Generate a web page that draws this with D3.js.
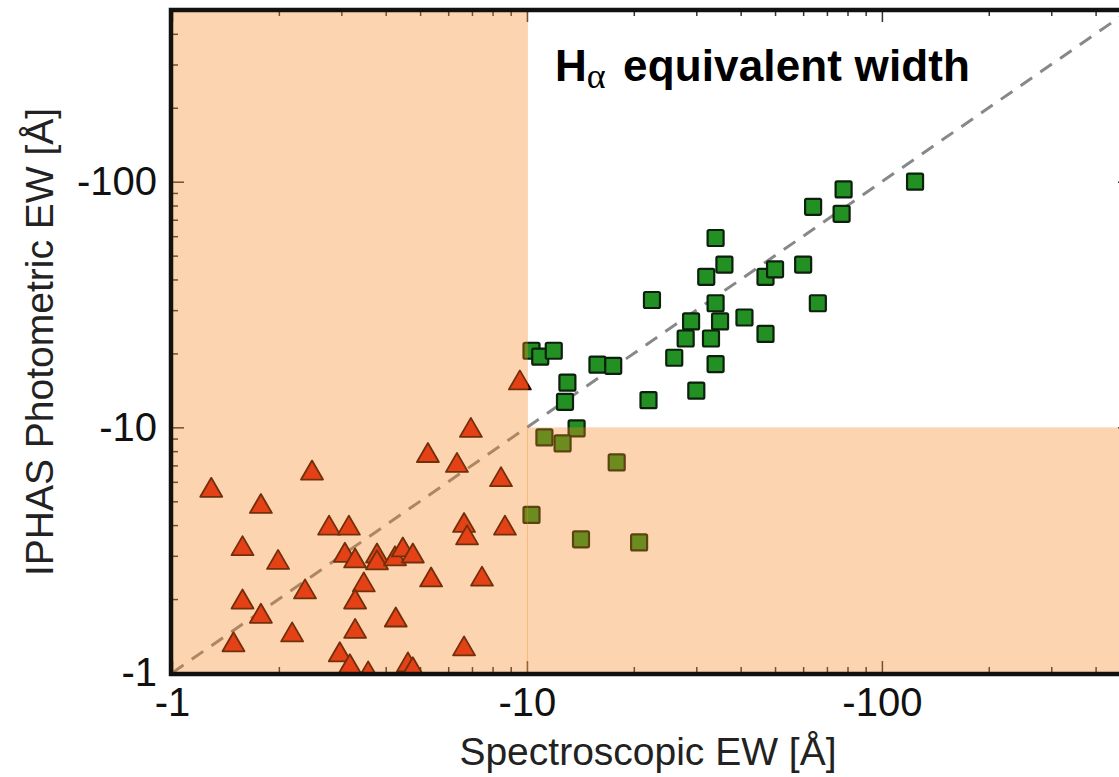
<!DOCTYPE html>
<html>
<head>
<meta charset="utf-8">
<script src="https://cdn.jsdelivr.net/npm/d3@7"></script>
<style>
  body { margin: 0; background: #fff; }
  text { font-family: "Liberation Sans", Arial, Helvetica, sans-serif; }
</style>
</head>
<body>
<script>
// spectroscopic EW (x) vs IPHAS photometric EW (y), in Angstrom
var squareX = [-124, -78, -64, -77, -34, -36, -32, -47, -50, -60, -22.5, -34, -66, -29, -35, -41, -28, -33, -47,
               -26, -34, -30, -22, -10.3, -10.9, -11.9, -15.8, -17.5, -13, -12.8, -13.8, -11.2, -12.6, -17.9, -10.3, -14.2, -20.7];
var squareY = [-100, -93, -79, -74, -59, -46, -41, -41, -44, -46, -33, -32, -32, -27, -27, -28, -23, -23, -24,
               -19.2, -18.1, -14.1, -12.9, -20.5, -19.4, -20.5, -18, -17.8, -15.2, -12.7, -9.9, -9.1, -8.6, -7.2, -4.4, -3.5, -3.4];

var triX = [-1.29, -2.48, -1.78, -2.77, -3.15, -1.58, -1.99, -3.07, -2.37, -1.58, -1.78, -2.18, -1.49, -2.97,
            -9.55, -6.95, -5.26, -6.35, -8.45, -6.65, -6.78, -8.67, -3.28, -3.78, -3.78, -4.25, -4.47, -4.77,
            -5.37, -7.47, -3.47, -3.28, -4.27, -3.28, -6.65, -3.17, -3.57, -4.62, -4.77];
var triY = [-5.7, -6.7, -4.9, -4.0, -4.0, -3.3, -2.9, -3.1, -2.2, -2.0, -1.75, -1.47, -1.34, -1.22,
            -15.6, -10.0, -7.9, -7.2, -6.3, -4.1, -3.65, -4.0, -2.94, -3.08, -2.89, -3.0, -3.26, -3.08,
            -2.46, -2.48, -2.35, -2.0, -1.69, -1.52, -1.29, -1.09, -1.02, -1.11, -1.06];

var majorTicks = [-1, -10, -100];
var minorTicks = [-2, -3, -4, -5, -6, -7, -8, -9, -20, -30, -40, -50, -60, -70, -80, -90, -200, -300, -400];
var axisRange = [-1, -500];
var cutX = -10, cutY = -10;

var width = 1119, height = 777;
var pLeft = 172, pRight = 1130, pTop = 10, pBottom = 673;

var svg = d3.select("body").append("svg")
    .attr("width", width)
    .attr("height", height);

var x = d3.scaleLog().domain(axisRange).range([pLeft, pRight]);
var y = d3.scaleLog().domain(axisRange).range([pBottom, pTop]);

svg.append("defs").append("clipPath").attr("id", "plot")
    .append("rect")
    .attr("x", pLeft).attr("y", pTop)
    .attr("width", pRight - pLeft).attr("height", pBottom - pTop);

// ticks (inside the frame)
function tickStyle(g) {
    g.select(".domain").remove();
    g.selectAll("line").attr("stroke", "#333").attr("stroke-width", 1.5);
    g.selectAll("text").attr("font-size", 40).attr("fill", "#111");
}
function label(d) { return "-" + Math.abs(d); }

svg.append("g").attr("transform", "translate(0," + pBottom + ")")
    .call(d3.axisBottom(x).tickValues(minorTicks).tickSize(-6).tickFormat(""))
    .call(tickStyle);
svg.append("g").attr("transform", "translate(0," + pTop + ")")
    .call(d3.axisTop(x).tickValues(minorTicks).tickSize(-6).tickFormat(""))
    .call(tickStyle);
svg.append("g").attr("transform", "translate(" + pLeft + ",0)")
    .call(d3.axisLeft(y).tickValues(minorTicks).tickSize(-6).tickFormat(""))
    .call(tickStyle);
svg.append("g").attr("transform", "translate(" + pRight + ",0)")
    .call(d3.axisRight(y).tickValues(minorTicks).tickSize(-6).tickFormat(""))
    .call(tickStyle);
svg.append("g").attr("transform", "translate(0," + pTop + ")")
    .call(d3.axisTop(x).tickValues(majorTicks).tickSize(-12).tickFormat(""))
    .call(tickStyle);
svg.append("g").attr("transform", "translate(" + pRight + ",0)")
    .call(d3.axisRight(y).tickValues(majorTicks).tickSize(-12).tickFormat(""))
    .call(tickStyle);
svg.append("g").attr("transform", "translate(0," + pBottom + ")")
    .call(d3.axisBottom(x).tickValues(majorTicks).tickSize(-12).tickPadding(15).tickFormat(label))
    .call(tickStyle);
svg.append("g").attr("transform", "translate(" + pLeft + ",0)")
    .call(d3.axisLeft(y).tickValues(majorTicks).tickSize(-12).tickPadding(15).tickFormat(label))
    .call(tickStyle);

var plot = svg.append("g").attr("clip-path", "url(#plot)");

// one-to-one line
plot.append("line")
    .attr("x1", x(axisRange[0])).attr("y1", y(axisRange[0]))
    .attr("x2", x(axisRange[1])).attr("y2", y(axisRange[1]))
    .attr("stroke", "#888")
    .attr("stroke-width", 3)
    .attr("stroke-dasharray", "14,10");

plot.selectAll("rect.sq")
    .data(d3.range(squareX.length))
    .enter().append("rect")
    .attr("class", "sq")
    .attr("x", function(i){ return x(squareX[i]) - 8; })
    .attr("y", function(i){ return y(squareY[i]) - 8; })
    .attr("width", 16).attr("height", 16)
    .attr("rx", 1.5)
    .attr("fill", "#229022")
    .attr("stroke", "#0d1f0d")
    .attr("stroke-width", 2.2);

var tw = 22, th = 19;
plot.selectAll("path.tri")
    .data(d3.range(triX.length))
    .enter().append("path")
    .attr("class", "tri")
    .attr("d", "M0," + (-th/2) + "L" + (tw/2) + "," + (th/2) + "L" + (-tw/2) + "," + (th/2) + "Z")
    .attr("transform", function(i){ return "translate(" + x(triX[i]) + "," + y(triY[i]) + ")"; })
    .attr("fill", "#da1c14")
    .attr("stroke", "#2a0000")
    .attr("stroke-width", 1.8)
    .attr("stroke-linejoin", "round");

// shaded regions, drawn on top of the marks
var shade = "#f6871d", shadeOp = 0.35;
plot.append("rect")
    .attr("x", pLeft).attr("y", pTop)
    .attr("width", x(cutX) - pLeft + 1).attr("height", pBottom - pTop)
    .attr("fill", shade).attr("fill-opacity", shadeOp);
plot.append("rect")
    .attr("x", x(cutX)).attr("y", y(cutY))
    .attr("width", pRight - x(cutX)).attr("height", pBottom - y(cutY))
    .attr("fill", shade).attr("fill-opacity", shadeOp);

// frame
svg.append("rect")
    .attr("x", pLeft - 1).attr("y", pTop)
    .attr("width", pRight - pLeft + 1).attr("height", pBottom - pTop + 1)
    .attr("fill", "none")
    .attr("stroke", "#111")
    .attr("stroke-width", 4.5);

// labels
svg.append("text")
    .attr("x", 648).attr("y", 765)
    .attr("text-anchor", "middle")
    .attr("font-size", 39)
    .attr("fill", "#222")
    .text("Spectroscopic EW [Å]");

svg.append("text")
    .attr("transform", "translate(53,342) rotate(-90)")
    .attr("text-anchor", "middle")
    .attr("font-size", 39)
    .attr("fill", "#222")
    .text("IPHAS Photometric EW [Å]");

var title = svg.append("text")
    .attr("x", 555).attr("y", 81)
    .attr("font-size", 44)
    .attr("font-weight", "bold")
    .attr("fill", "#000");
title.append("tspan").text("H");
title.append("tspan")
    .attr("dy", 7)
    .attr("font-size", 36)
    .attr("font-weight", "normal")
    .style("font-family", "'Liberation Serif', serif")
    .text("α");
title.append("tspan")
    .attr("x", 623).attr("dy", -7)
    .attr("textLength", 347)
    .text("equivalent width");
</script>
</body>
</html>
